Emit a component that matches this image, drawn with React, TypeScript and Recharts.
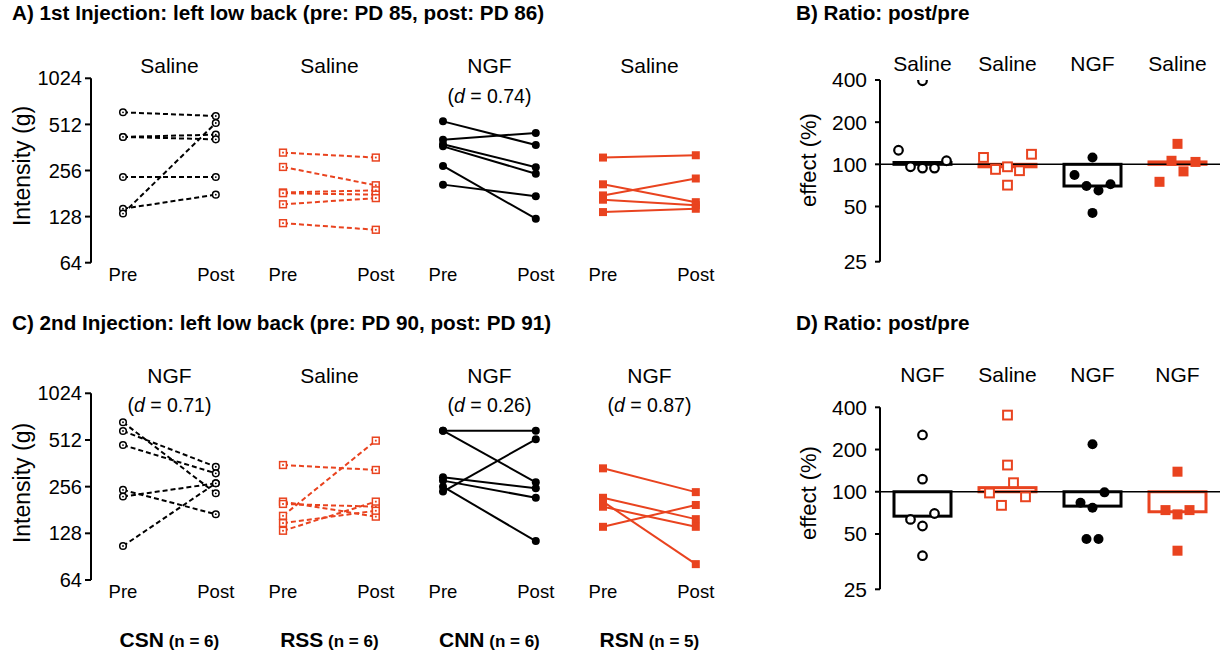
import React from 'react';
import { ComposedChart, Scatter, XAxis, YAxis, Bar, ReferenceLine } from 'recharts';

const FONT = '"Liberation Sans", Arial, Helvetica, sans-serif';
const RED = '#E9431F';
const BLACK = '#000000';

// ---------- categories / labels ----------
const groupNames = ['CSN', 'RSS', 'CNN', 'RSN'];
const groupN = [6, 6, 6, 5];
const treatmentsFirst = ['Saline', 'Saline', 'NGF', 'Saline'];
const treatmentsSecond = ['NGF', 'Saline', 'NGF', 'NGF'];
const effectSizeFirst: (string | null)[] = [null, null, '0.74', null];
const effectSizeSecond: (string | null)[] = ['0.71', null, '0.26', '0.87'];
const phaseLabels = ['Pre', 'Post'];
const intensityTicks = [64, 128, 256, 512, 1024];
const effectTicks = [25, 50, 100, 200, 400];

// ---------- A) 1st injection, intensity (g) ----------
const firstPreCSN = [614, 424, 424, 232, 144, 134];
const firstPostCSN = [581, 439, 409, 232, 178, 523];
const firstPreRSS = [335, 270, 184, 182, 154, 116];
const firstPostRSS = [311, 205, 190, 178, 169, 105];
const firstPreCNN = [536, 407, 380, 368, 274, 207];
const firstPostCNN = [376, 450, 269, 244, 124, 174];
const firstPreRSN = [311, 208, 176, 165, 137];
const firstPostRSN = [322, 159, 227, 152, 144];

// ---------- C) 2nd injection, intensity (g) ----------
const secondPreCSN = [666, 585, 475, 244, 221, 106];
const secondPostCSN = [232, 344, 312, 170, 269, 269];
const secondPreRSS = [353, 205, 198, 166, 149, 133];
const secondPostRSS = [328, 164, 190, 507, 179, 205];
const secondPreCNN = [588, 588, 294, 280, 256, 238];
const secondPostCNN = [588, 273, 250, 217, 114, 517];
const secondPreRSN = [336, 217, 205, 190, 141];
const secondPostRSN = [236, 158, 81, 141, 195];

// ---------- B) ratio post/pre (%) after 1st injection ----------
const ratioFirstCSN = [395, 126, 96, 94, 94, 106];
const ratioFirstRSS = [112, 92, 96, 71, 90, 118];
const ratioFirstCNN = [112, 84, 70, 65, 72, 45];
const ratioFirstRSN = [140, 75, 106, 89, 104];
const ratioFirstMedian = [103, 96, 70, 104];

// ---------- D) ratio post/pre (%) after 2nd injection ----------
const ratioSecondCSN = [254, 123, 63.5, 57, 70, 35];
const ratioSecondRSS = [352, 155, 98, 80, 116, 92];
const ratioSecondCNN = [218, 83.5, 77, 99, 46, 46];
const ratioSecondRSN = [139, 74, 69, 74, 38];
const ratioSecondMedian = [67, 107, 79, 72];

const groupStyle = [
  { color: BLACK, dash: '5 3', kind: 'circle', filled: false },
  { color: RED, dash: '5 3', kind: 'square', filled: false },
  { color: BLACK, dash: undefined as string | undefined, kind: 'circle', filled: true },
  { color: RED, dash: undefined as string | undefined, kind: 'square', filled: true },
];

const log2 = (v: number) => Math.log2(v);

// ---------- markers ----------
function pairMarker(kind: string, filled: boolean, color: string) {
  return (props: any) => {
    const { cx, cy } = props;
    if (cx == null || cy == null) return <g />;
    if (kind === 'circle') {
      return filled ? (
        <circle cx={cx} cy={cy} r={4} fill={color} />
      ) : (
        <g>
          <circle cx={cx} cy={cy} r={3.3} fill="#fff" stroke={color} strokeWidth={1.5} />
          <circle cx={cx} cy={cy} r={0.9} fill={color} />
        </g>
      );
    }
    return filled ? (
      <rect x={cx - 4} y={cy - 4} width={8} height={8} fill={color} />
    ) : (
      <g>
        <rect x={cx - 3.4} y={cy - 3.4} width={6.8} height={6.8} fill="#fff" stroke={color} strokeWidth={1.5} />
        <rect x={cx - 0.9} y={cy - 0.9} width={1.8} height={1.8} fill={color} />
      </g>
    );
  };
}

function ratioMarker(kind: string, filled: boolean, color: string) {
  return (props: any) => {
    const { cx, cy } = props;
    if (cx == null || cy == null) return <g />;
    if (kind === 'circle') {
      return filled ? (
        <circle cx={cx} cy={cy} r={5} fill={color} />
      ) : (
        <circle cx={cx} cy={cy} r={4.3} fill="#fff" stroke={color} strokeWidth={2.2} />
      );
    }
    return filled ? (
      <rect x={cx - 5} y={cy - 5} width={10} height={10} fill={color} />
    ) : (
      <rect x={cx - 4.4} y={cy - 4.4} width={8.8} height={8.8} fill="#fff" stroke={color} strokeWidth={2} />
    );
  };
}

// ---------- paired pre/post panel ----------
const PX0 = -0.2;
const PX1 = 3.8;
const POST_OFFSET = 0.58;

type PairedProps = {
  top: number;
  height: number;
  plotTop: number;
  plotBottom: number;
  pre: number[][];
  post: number[][];
  treatments: string[];
  dvals: (string | null)[];
  titleDy: number;
  dDy: number;
  showGroups: boolean;
};

function PairedPanel(p: PairedProps) {
  const centers = groupNames.map((_, g) => g + POST_OFFSET / 2);
  const phaseTicks: number[] = [];
  groupNames.forEach((_, g) => {
    phaseTicks.push(g);
    phaseTicks.push(g + POST_OFFSET);
  });
  const topH = p.plotTop - p.top;
  const phaseH = 35;
  const groupsH = p.top + p.height - p.plotBottom - phaseH;

  const TitleTick = (tp: any) => {
    const i = tp.index ?? tp.payload?.index ?? 0;
    const d = p.dvals[i];
    return (
      <g>
        <text x={tp.x} y={tp.y + p.titleDy} textAnchor="middle" fontSize={21} fontFamily={FONT} fill="#000">
          {p.treatments[i]}
        </text>
        {d && (
          <text x={tp.x} y={tp.y + p.dDy} textAnchor="middle" fontSize={19.5} fontFamily={FONT} fill="#000">
            <tspan>(</tspan>
            <tspan fontStyle="italic">d</tspan>
            <tspan>{` = ${d})`}</tspan>
          </text>
        )}
      </g>
    );
  };
  const PhaseTick = (tp: any) => {
    const i = tp.index ?? tp.payload?.index ?? 0;
    return (
      <text x={tp.x} y={tp.y + 18} textAnchor="middle" fontSize={18.5} fontFamily={FONT} fill="#000">
        {phaseLabels[i % 2]}
      </text>
    );
  };
  const GroupTick = (tp: any) => {
    const i = tp.index ?? tp.payload?.index ?? 0;
    return (
      <text x={tp.x} y={tp.y + 32} textAnchor="middle" fontFamily={FONT} fontWeight={700} fill="#000">
        <tspan fontSize={21}>{groupNames[i]}</tspan>
        <tspan fontSize={17}>{` (n = ${groupN[i]})`}</tspan>
      </text>
    );
  };

  return (
    <div style={{ position: 'absolute', left: 0, top: p.top, width: 740, height: p.height }}>
      <ComposedChart width={740} height={p.height} margin={{ top: 0, right: 9, bottom: p.showGroups ? 0 : groupsH, left: 0 }}>
        <XAxis
          xAxisId="a_top"
          orientation="top"
          type="number"
          dataKey="x"
          domain={[PX0, PX1]}
          allowDataOverflow
          ticks={centers}
          interval={0}
          height={topH}
          axisLine={false}
          tickLine={false}
          tickSize={0}
          tickMargin={0}
          tick={TitleTick}
        />
        <XAxis
          xAxisId="a_phase"
          type="number"
          dataKey="x"
          domain={[PX0, PX1]}
          allowDataOverflow
          ticks={phaseTicks}
          interval={0}
          height={phaseH}
          axisLine={false}
          tickLine={false}
          tickSize={0}
          tickMargin={0}
          tick={PhaseTick}
        />
        {p.showGroups && (
          <XAxis
            xAxisId="b_groups"
            type="number"
            dataKey="x"
            domain={[PX0, PX1]}
            allowDataOverflow
            ticks={centers}
            interval={0}
            height={groupsH}
            axisLine={false}
            tickLine={false}
            tickSize={0}
            tickMargin={0}
            tick={GroupTick}
          />
        )}
        <YAxis
          type="number"
          dataKey="y"
          domain={[log2(intensityTicks[0]), log2(intensityTicks[intensityTicks.length - 1])]}
          ticks={intensityTicks.map(log2)}
          interval={0}
          tickFormatter={(v: number) => String(Math.round(Math.pow(2, v)))}
          width={91}
          tickSize={6}
          tickMargin={3}
          axisLine={{ stroke: '#000', strokeWidth: 2 }}
          tickLine={{ stroke: '#000', strokeWidth: 2 }}
          tick={{ fontSize: 20, fill: '#000', fontFamily: FONT }}
        />
        {groupNames.map((_, g) =>
          p.pre[g].map((v, s) => {
            const st = groupStyle[g];
            const data = [
              { x: g, y: log2(v) },
              { x: g + POST_OFFSET, y: log2(p.post[g][s]) },
            ];
            return (
              <Scatter
                key={`${g}-${s}`}
                xAxisId="a_phase"
                data={data}
                fill={st.color}
                line={{ stroke: st.color, strokeWidth: 2, strokeDasharray: st.dash }}
                shape={pairMarker(st.kind, st.filled, st.color)}
                isAnimationActive={false}
              />
            );
          })
        )}
      </ComposedChart>
    </div>
  );
}

// ---------- ratio panel ----------
const PX_PER_OCT = 42.2;
const PX_PER_GROUP = 85;
const EFFECT_MIN = log2(100) - 2.31;
const EFFECT_MAX = log2(400);

function swarmOffsets(values: number[], gapPx: number, stepPx: number): number[] {
  const idx = values.map((_, i) => i).sort((a, b) => values[a] - values[b]);
  const rows: number[][] = [];
  let cur: number[] = [];
  idx.forEach((i, k) => {
    if (k > 0 && (log2(values[i]) - log2(values[idx[k - 1]])) * PX_PER_OCT > gapPx) {
      rows.push(cur);
      cur = [];
    }
    cur.push(i);
  });
  rows.push(cur);
  const off = values.map(() => 0);
  rows.forEach((r) => {
    const sorted = [...r].sort((a, b) => a - b);
    sorted.forEach((i, j) => {
      off[i] = (j - (sorted.length - 1) / 2) * stepPx;
    });
  });
  return off;
}

type RatioProps = {
  top: number;
  height: number;
  plotTop: number;
  plotBottom: number;
  values: number[][];
  medians: number[];
  treatments: string[];
  titleDy: number;
};

function RatioPanel(p: RatioProps) {
  const barData = groupNames.map((k, i) => {
    const a = log2(100);
    const b = log2(p.medians[i]);
    return { key: k, range: [Math.min(a, b), Math.max(a, b)] };
  });
  const effectTickPos = effectTicks.map((v, i) => (i === 0 ? EFFECT_MIN : log2(v)));
  const TitleTick = (tp: any) => {
    const i = tp.index ?? tp.payload?.index ?? 0;
    return (
      <text x={tp.x} y={tp.y + p.titleDy} textAnchor="middle" fontSize={21} fontFamily={FONT} fill="#000">
        {p.treatments[i]}
      </text>
    );
  };
  const BarShape = (bp: any) => {
    const g = groupNames.indexOf(bp.payload?.key);
    const color = groupStyle[g >= 0 ? g : 0].color;
    const y0 = Math.min(bp.y, bp.y + bp.height);
    const h = Math.abs(bp.height);
    return <rect x={bp.x} y={y0} width={bp.width} height={h} fill="none" stroke={color} strokeWidth={3} />;
  };
  return (
    <div style={{ position: 'absolute', left: 780, top: p.top, width: 446, height: p.height }}>
      <ComposedChart
        width={446}
        height={p.height}
        data={barData}
        margin={{ top: 0, right: 6, bottom: p.top + p.height - p.plotBottom, left: 0 }}
      >
        <XAxis
          xAxisId="cat"
          orientation="top"
          type="category"
          dataKey="key"
          height={p.plotTop - p.top}
          axisLine={false}
          tickLine={false}
          tickSize={0}
          tickMargin={0}
          interval={0}
          tick={TitleTick}
        />
        <XAxis xAxisId="num" type="number" dataKey="x" domain={[-0.5, 3.5]} allowDataOverflow hide />
        <YAxis
          type="number"
          dataKey="y"
          domain={[EFFECT_MIN, EFFECT_MAX]}
          allowDataOverflow
          ticks={effectTickPos}
          interval={0}
          tickFormatter={(_v: number, i: number) => String(effectTicks[i])}
          width={100}
          tickSize={5}
          tickMargin={8}
          axisLine={{ stroke: '#000', strokeWidth: 2 }}
          tickLine={{ stroke: '#000', strokeWidth: 2 }}
          tick={{ fontSize: 21, fill: '#000', fontFamily: FONT }}
        />
        <Bar xAxisId="cat" dataKey="range" barSize={57} shape={BarShape} isAnimationActive={false} />
        <ReferenceLine xAxisId="num" y={log2(100)} stroke="#000" strokeWidth={1.5} />
        {p.values.map((vals, g) => {
          const st = groupStyle[g];
          const off = swarmOffsets(vals, 12, 12);
          const data = vals.map((v, j) => ({ x: g + off[j] / PX_PER_GROUP, y: log2(v) }));
          return (
            <Scatter
              key={g}
              xAxisId="num"
              data={data}
              fill={st.color}
              shape={ratioMarker(st.kind, st.filled, st.color)}
              isAnimationActive={false}
            />
          );
        })}
      </ComposedChart>
    </div>
  );
}

export default function App() {
  return (
    <div
      style={{
        position: 'fixed',
        left: 0,
        top: 0,
        width: 1226,
        height: 656,
        background: '#fff',
        fontFamily: FONT,
        overflow: 'hidden',
      }}
    >
      <PairedPanel
        top={0}
        height={300}
        plotTop={78.3}
        plotBottom={262.7}
        pre={[firstPreCSN, firstPreRSS, firstPreCNN, firstPreRSN]}
        post={[firstPostCSN, firstPostRSS, firstPostCNN, firstPostRSN]}
        treatments={treatmentsFirst}
        dvals={effectSizeFirst}
        titleDy={-5}
        dDy={25}
        showGroups={false}
      />
      <PairedPanel
        top={315}
        height={341}
        plotTop={393.3}
        plotBottom={580}
        pre={[secondPreCSN, secondPreRSS, secondPreCNN, secondPreRSN]}
        post={[secondPostCSN, secondPostRSS, secondPostCNN, secondPostRSN]}
        treatments={treatmentsSecond}
        dvals={effectSizeSecond}
        titleDy={-10}
        dDy={19}
        showGroups={true}
      />
      <RatioPanel
        top={0}
        height={300}
        plotTop={80}
        plotBottom={261.7}
        values={[ratioFirstCSN, ratioFirstRSS, ratioFirstCNN, ratioFirstRSN]}
        medians={ratioFirstMedian}
        treatments={treatmentsFirst}
        titleDy={-9}
      />
      <RatioPanel
        top={320}
        height={300}
        plotTop={407.3}
        plotBottom={589.3}
        values={[ratioSecondCSN, ratioSecondRSS, ratioSecondCNN, ratioSecondRSN]}
        medians={ratioSecondMedian}
        treatments={treatmentsSecond}
        titleDy={-25.6}
      />
      <svg width={1226} height={656} style={{ position: 'absolute', left: 0, top: 0, pointerEvents: 'none' }}>
        <text x={12} y={20} fontSize={20.7} fontWeight={700} fontFamily={FONT} fill="#000">
          A) 1st Injection: left low back (pre: PD 85, post: PD 86)
        </text>
        <text x={796} y={20} fontSize={20.7} fontWeight={700} fontFamily={FONT} fill="#000">
          B) Ratio: post/pre
        </text>
        <text x={12} y={330} fontSize={20.7} fontWeight={700} fontFamily={FONT} fill="#000">
          C) 2nd Injection: left low back (pre: PD 90, post: PD 91)
        </text>
        <text x={796} y={330} fontSize={20.7} fontWeight={700} fontFamily={FONT} fill="#000">
          D) Ratio: post/pre
        </text>
        <text x={29.5} y={166} fontSize={23} fontFamily={FONT} fill="#000" textAnchor="middle" transform="rotate(-90 29.5 166)">
          Intensity (g)
        </text>
        <text x={29.5} y={483} fontSize={23} fontFamily={FONT} fill="#000" textAnchor="middle" transform="rotate(-90 29.5 483)">
          Intensity (g)
        </text>
        <text x={816} y={160} fontSize={22} fontFamily={FONT} fill="#000" textAnchor="middle" transform="rotate(-90 816 160)">
          effect (%)
        </text>
        <text x={816} y={493} fontSize={22} fontFamily={FONT} fill="#000" textAnchor="middle" transform="rotate(-90 816 493)">
          effect (%)
        </text>
      </svg>
    </div>
  );
}
